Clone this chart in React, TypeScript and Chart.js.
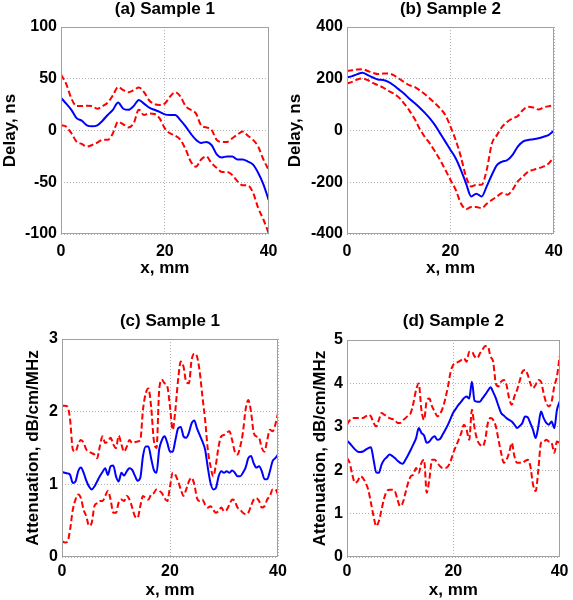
import React, { useEffect, useRef } from "react";
import { Chart, registerables } from "chart.js";

Chart.register(...registerables);

// ---------- Data ----------
const abX = [0,1,2,3,4,5,6,7,8,9,10,11,12,13,14,15,16,17,18,19,20,21,22,23,24,25,26,27,28,29,30,31,32,33,34,35,36,37,38,39,40];

const aMean = [31.6,26,20,12,9.5,5,4,5,9.5,15, 20,27,21,20,23.6,29.5,26,22,20,18, 15.6,15,15,10,4,-3,-9,-12,-11,-14, -23,-26,-25,-25,-28,-28,-30,-33,-41,-52, -67];
const aUpper = [54,45,31,23.6,23.6,24,23.6,21,23.6,27, 34,42,39,37,39,41.6,37,29,25.5,24.6, 26,32.6,37,33,23.6,20,16.5,5,3,0.5, -9,-11,-11,-7.5,-4,-1,-5,-9,-15.6,-28, -38];
const aLower = [5,3.7,-2.7,-10.8,-13,-15.6,-14,-11.7,-9,-9, -2.7,8.5,6,3,7,20,15,16.5,16,11.7, 2,-2.7,-5,-9,-18,-30,-35,-28,-25,-31.6, -36,-40,-40,-43,-49,-53,-53,-60,-75,-86, -99];

const bMean = [205,210,218,223,214,205,197,195,188,175, 159,143,124,107,89,69,47,21,-11,-43, -75,-107,-152,-204,-255,-244,-255,-216,-171,-133, -120,-114,-94,-62,-43,-37,-34,-30,-24,-17, 0];
const bUpper = [230,233,236,237,230,223,218,220,220,214, 201,188,175,169,156,141,124,105,85,60, 15,-37,-101,-178,-216,-210,-210,-152,-50,-17, 15,34,47,56,79,92,89,81,89,94, 98];
const bLower = [182,188,197,201,195,184,175,166,153,143, 128,105,79,47,8,-24,-50,-81,-114,-152, -191,-229,-281,-304,-296,-296,-300,-283,-268,-255, -242,-248,-229,-197,-178,-159,-152,-146,-139,-127, -101];

const cdX = [0,0.5,1,1.5,2,2.5,3,3.5,4,4.5, 5,5.5,6,6.5,7,7.5,8,8.5,9,9.5, 10,10.5,11,11.5,12,12.5,13,13.5,14,14.5, 15,15.5,16,16.5,17,17.5,18,18.5,19,19.5, 20,20.5,21,21.5,22,22.5,23,23.5,24,24.5, 25,25.5,26,26.5,27,27.5,28,28.5,29,29.5, 30,30.5,31,31.5,32,32.5,33,33.5,34,34.5, 35,35.5,36,36.5,37,37.5,38,38.5,39,39.5, 40];

const cMean = [1.17,1.16,1.15,1.13,1.02,1.04,1.18,1.23,1.16,1.05, 0.97,0.93,0.97,1.04,1.11,1.17,1.22,1.13,1.25,1.26, 1.11,1.04,1.16,1.12,1.18,1.22,1.20,1.12,1.05,1.09, 1.39,1.52,1.52,1.36,1.20,1.16,1.48,1.61,1.66,1.57, 1.45,1.45,1.61,1.77,1.79,1.66,1.64,1.71,1.84,1.88, 1.77,1.68,1.59,1.48,1.23,1.02,0.93,0.95,1.11,1.18, 1.16,1.18,1.16,1.19,1.16,1.11,1.11,1.16,1.23,1.36, 1.39,1.29,1.23,1.25,1.18,1.07,1.07,1.18,1.32,1.36, 1.41];
const cUpper = [2.08,2.08,2.07,1.89,1.48,1.45,1.55,1.61,1.57,1.48, 1.45,1.43,1.41,1.36,1.52,1.66,1.57,1.59,1.64,1.55, 1.50,1.67,1.55,1.45,1.52,1.61,1.57,1.58,1.59,1.61, 2.03,2.25,2.32,2.07,1.61,1.50,2.30,2.44,2.39,2.35, 2.07,1.75,2.03,2.44,2.69,2.62,2.41,2.39,2.71,2.80, 2.76,2.55,2.21,1.89,1.48,1.25,1.11,1.27,1.52,1.66, 1.68,1.71,1.73,1.61,1.45,1.41,1.52,1.71,2.03,2.16, 2.00,1.71,1.66,1.64,1.50,1.45,1.61,1.75,1.73,1.82, 1.98];
const cLower = [0.22,0.20,0.21,0.38,0.65,0.79,0.86,0.81,0.65,0.56, 0.43,0.47,0.70,0.74,0.77,0.77,0.84,0.91,0.79,0.61, 0.61,0.75,0.79,0.77,0.84,0.79,0.68,0.56,0.54,0.70, 0.84,0.81,0.79,0.86,0.88,0.93,0.91,0.88,0.81,0.77, 0.97,1.16,1.13,1.04,0.93,0.84,0.93,1.04,1.09,1.00, 0.81,0.77,0.79,0.72,0.68,0.70,0.65,0.61,0.63,0.68, 0.63,0.65,0.72,0.79,0.77,0.68,0.65,0.61,0.59,0.61, 0.70,0.79,0.81,0.77,0.68,0.70,0.79,0.84,0.93,0.93, 0.86];

const dMean = [2.68,2.62,2.55,2.48,2.43,2.42,2.43,2.47,2.51,2.53, 2.24,1.95,1.94,2.13,2.24,2.30,2.36,2.33,2.28,2.22, 2.17,2.15,2.24,2.35,2.47,2.60,2.74,2.97,2.86,2.80, 2.63,2.66,2.74,2.78,2.70,2.72,2.82,2.93,3.05,3.19, 3.33,3.42,3.51,3.58,3.66,3.70,3.65,4.04,3.60,3.58, 3.58,3.66,3.74,3.83,3.91,3.80,3.66,3.48,3.32,3.26, 3.20,3.16,3.12,3.05,2.97,3.02,3.09,3.24,3.22,3.08, 2.93,2.74,3.01,3.35,3.20,3.09,3.05,3.12,2.97,3.39, 3.58];
const dUpper = [3.05,3.15,3.20,3.20,3.20,3.20,3.20,3.24,3.28,3.24, 3.09,3.01,3.16,3.32,3.28,3.24,3.20,3.18,3.16,3.09, 3.09,3.15,3.20,3.26,3.32,3.55,3.85,4.00,3.39,3.16, 3.60,3.65,3.47,3.35,3.24,3.30,3.43,3.65,3.93,4.27, 4.43,4.47,4.50,4.54,4.58,4.50,4.73,4.73,4.62,4.58, 4.69,4.78,4.86,4.85,4.62,4.50,4.00,3.93,4.04,4.08, 3.97,3.66,3.51,3.70,3.85,4.06,4.27,4.31,4.20,4.00, 3.89,3.97,4.08,4.04,3.77,3.55,3.47,3.58,3.93,4.16, 4.62];
const dLower = [2.28,2.17,1.90,1.71,1.75,1.86,1.82,1.71,1.55,1.25, 0.94,0.71,0.83,1.09,1.36,1.52,1.55,1.55,1.52,1.32, 1.17,1.25,1.48,1.71,1.86,1.90,2.05,1.94,2.17,2.24, 1.48,1.80,2.24,2.24,2.17,2.09,2.05,2.05,2.09,2.21, 2.40,2.55,2.70,2.86,3.05,2.93,2.70,3.39,2.97,2.70, 2.59,2.55,2.70,3.09,3.20,3.16,3.01,2.70,2.40,2.17, 2.24,2.40,2.63,2.32,2.17,2.17,2.17,2.21,2.24,2.09, 1.67,1.52,2.01,2.63,2.66,2.70,2.66,2.63,2.40,2.66, 2.63];

const titles = ["(a) Sample 1", "(b) Sample 2", "(c) Sample 1", "(d) Sample 2"];
const yLabels = ["Delay, ns", "Delay, ns", "Attenuation, dB/cm/MHz", "Attenuation, dB/cm/MHz"];
const xLabel = "x, mm";
const yRanges = [[-100, 100, 50], [-400, 400, 200], [0, 3, 1], [0, 5, 1]];

// ---------- Layout ----------
type Panel = {
  x: number[]; mean: number[]; upper: number[]; lower: number[];
  title: string; yLabel: string; yr: number[];
  left: number; top: number; w: number; h: number;
  yWidth: number; padRight: number; titleTop: number; titleBottom: number;
  xHeight: number; xTitleBottom: number; yTitleTop: number; xTickPad: number;
};

const FONT = "'Liberation Sans', Arial, Helvetica, sans-serif";

const panels: Panel[] = [
  { x: abX, mean: aMean, upper: aUpper, lower: aLower, title: titles[0], yLabel: yLabels[0], yr: yRanges[0],
    left: 0, top: 0, w: 285, h: 290, yWidth: 61, padRight: 15, titleTop: 0.5, titleBottom: 9.5,
    xHeight: 56, xTitleBottom: 13.5, yTitleTop: 1.5, xTickPad: 7.5 },
  { x: abX, mean: bMean, upper: bUpper, lower: bLower, title: titles[1], yLabel: yLabels[1], yr: yRanges[1],
    left: 285, top: 0, w: 288, h: 290, yWidth: 62, padRight: 19, titleTop: 0.5, titleBottom: 9.5,
    xHeight: 56, xTitleBottom: 13.5, yTitleTop: 1.5, xTickPad: 7.5 },
  { x: cdX, mean: cMean, upper: cUpper, lower: cLower, title: titles[2], yLabel: yLabels[2], yr: yRanges[2],
    left: 0, top: 300, w: 292, h: 300, yWidth: 62, padRight: 14, titleTop: 13, titleBottom: 9,
    xHeight: 43, xTitleBottom: 1.5, yTitleTop: 25, xTickPad: 4.5 },
  { x: cdX, mean: dMean, upper: dUpper, lower: dLower, title: titles[3], yLabel: yLabels[3], yr: yRanges[3],
    left: 292, top: 300, w: 281, h: 300, yWidth: 55, padRight: 10, titleTop: 13, titleBottom: 10,
    xHeight: 43, xTitleBottom: 1.5, yTitleTop: 19.5, xTickPad: 4.5 },
];

const boxPlugin = {
  id: "matlabBox",
  afterDatasetsDraw(chart: any) {
    const { ctx, chartArea } = chart;
    const l = Math.round(chartArea.left) + 0.5;
    const t = Math.round(chartArea.top) + 0.5;
    const r = Math.round(chartArea.right) - 0.5;
    const b = Math.round(chartArea.bottom) - 0.5;
    ctx.save();
    ctx.strokeStyle = "#a0a0a0";
    ctx.lineWidth = 1;
    ctx.setLineDash([]);
    ctx.strokeRect(l, t, r - l, b - t);
    ctx.restore();
  },
};

function makeConfig(p: Panel): any {
  const pts = (ys: number[]) => p.x.map((x, i) => ({ x, y: ys[i] }));
  const tickFont = { family: FONT, size: 16, weight: "bold" as const };
  const labelFont = { family: FONT, size: 17, weight: "bold" as const, lineHeight: 1 };
  const gridOpts = { color: "rgba(0,0,0,0.3)", lineWidth: 1, drawTicks: false };
  return {
    type: "line",
    data: {
      datasets: [
        { data: pts(p.mean), borderColor: "#0000ff", borderWidth: 2, pointRadius: 0, cubicInterpolationMode: "monotone", fill: false },
        { data: pts(p.upper), borderColor: "#ff0000", borderWidth: 2, borderDash: [6, 3], pointRadius: 0, cubicInterpolationMode: "monotone", fill: false },
        { data: pts(p.lower), borderColor: "#ff0000", borderWidth: 2, borderDash: [6, 3], pointRadius: 0, cubicInterpolationMode: "monotone", fill: false },
      ],
    },
    options: {
      animation: false,
      responsive: false,
      maintainAspectRatio: false,
      devicePixelRatio: 1,
      events: [],
      layout: { padding: { left: 0, right: p.padRight, top: 0, bottom: 0 } },
      plugins: {
        legend: { display: false },
        tooltip: { enabled: false },
        title: {
          display: true,
          text: p.title,
          color: "#000",
          fullSize: false,
          font: labelFont,
          padding: { top: p.titleTop, bottom: p.titleBottom },
        },
      },
      scales: {
        x: {
          type: "linear",
          min: 0,
          max: 40,
          ticks: { stepSize: 20, color: "#000", font: tickFont, padding: p.xTickPad, maxRotation: 0 },
          grid: gridOpts,
          border: { display: false, dash: [1, 2] },
          title: { display: true, text: xLabel, color: "#000", font: labelFont, padding: { top: 0, bottom: p.xTitleBottom } },
          afterFit: (s: any) => { s.height = p.xHeight; },
        },
        y: {
          type: "linear",
          min: p.yr[0],
          max: p.yr[1],
          ticks: { stepSize: p.yr[2], color: "#000", font: tickFont, padding: 4 },
          grid: gridOpts,
          border: { display: false, dash: [1, 2] },
          title: { display: true, text: p.yLabel, color: "#000", font: labelFont, padding: { top: p.yTitleTop, bottom: 0 } },
          afterFit: (s: any) => { s.width = p.yWidth; },
        },
      },
    },
    plugins: [boxPlugin],
  };
}

export default function App() {
  const refs = useRef<(HTMLCanvasElement | null)[]>([]);
  useEffect(() => {
    const charts: Chart[] = [];
    panels.forEach((p, i) => {
      const c = refs.current[i];
      if (c) charts.push(new Chart(c, makeConfig(p)));
    });
    return () => charts.forEach((ch) => ch.destroy());
  }, []);
  return (
    <div style={{ position: "absolute", left: 0, top: 0, width: 573, height: 600, background: "#fff" }}>
      {panels.map((p, i) => (
        <canvas
          key={i}
          ref={(el) => { refs.current[i] = el; }}
          width={p.w}
          height={p.h}
          style={{ position: "absolute", left: p.left, top: p.top, width: p.w, height: p.h }}
        />
      ))}
    </div>
  );
}
